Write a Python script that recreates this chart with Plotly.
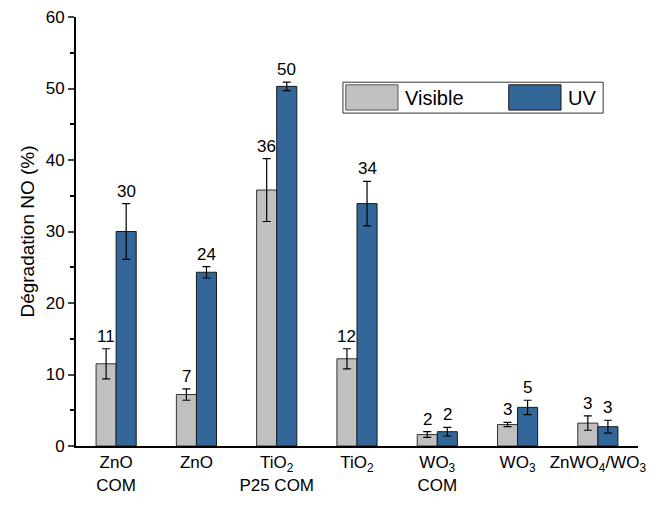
import plotly.graph_objects as go

categories = ["ZnO<br>COM", "ZnO", "TiO<sub>2</sub><br>P25 COM", "TiO<sub>2</sub>", "WO<sub>3</sub><br>COM", "WO<sub>3</sub>", "ZnWO<sub>4</sub>/WO<sub>3</sub>"]
visible = [11.5, 7.2, 35.8, 12.2, 1.6, 3.0, 3.2]
visible_err = [2.1, 0.8, 4.4, 1.4, 0.4, 0.3, 1.0]
uv = [30.0, 24.3, 50.3, 33.9, 2.0, 5.4, 2.7]
uv_err = [3.9, 0.8, 0.6, 3.1, 0.6, 1.0, 0.9]
visible_labels = ["11", "7", "36", "12", "2", "3", "3"]
uv_labels = ["30", "24", "50", "34", "2", "5", "3"]
series_names = ["Visible", "UV"]
series_colors = ["#C0C0C0", "#336699"]

FONT = "Liberation Sans, Arial"
idx = list(range(len(categories)))
w = 0.25
xv = [i - w / 2 for i in idx]
xu = [i + w / 2 for i in idx]

fig = go.Figure()
fig.add_trace(go.Bar(
    x=xv, y=visible, width=w, name=series_names[0],
    marker=dict(color=series_colors[0], line=dict(color="#333333", width=1)),
    error_y=dict(type="data", array=visible_err, color="black", thickness=1.2, width=4),
))
fig.add_trace(go.Bar(
    x=xu, y=uv, width=w, name=series_names[1],
    marker=dict(color=series_colors[1], line=dict(color="#1a1a1a", width=1)),
    error_y=dict(type="data", array=uv_err, color="black", thickness=1.2, width=4),
))

for x, v, e, t in zip(xv, visible, visible_err, visible_labels):
    fig.add_annotation(x=x, y=v + e, text=t, showarrow=False, yanchor="bottom", yshift=1,
                       font=dict(size=17, color="black", family=FONT))
for x, v, e, t in zip(xu, uv, uv_err, uv_labels):
    fig.add_annotation(x=x, y=v + e, text=t, showarrow=False, yanchor="bottom", yshift=1,
                       font=dict(size=17, color="black", family=FONT))

# custom legend box with large swatches
fig.add_shape(type="rect", xref="paper", yref="paper", x0=0.475, x1=0.938, y0=0.776, y1=0.848,
              line=dict(color="#333333", width=1), fillcolor="white")
fig.add_shape(type="rect", xref="paper", yref="paper", x0=0.480, x1=0.573, y0=0.783, y1=0.842,
              line=dict(color="#555555", width=1), fillcolor=series_colors[0])
fig.add_shape(type="rect", xref="paper", yref="paper", x0=0.770, x1=0.863, y0=0.783, y1=0.842,
              line=dict(color="#1a1a1a", width=1), fillcolor=series_colors[1])
fig.add_annotation(xref="paper", yref="paper", x=0.582, y=0.812, text=series_names[0],
                   showarrow=False, xanchor="left", yanchor="middle",
                   font=dict(size=20, color="black", family=FONT))
fig.add_annotation(xref="paper", yref="paper", x=0.872, y=0.812, text=series_names[1],
                   showarrow=False, xanchor="left", yanchor="middle",
                   font=dict(size=20, color="black", family=FONT))

fig.update_layout(
    width=670, height=506,
    margin=dict(l=68, r=40, t=9, b=68, autoexpand=False),
    paper_bgcolor="white", plot_bgcolor="white",
    barmode="overlay",
    font=dict(family=FONT, size=16, color="black"),
    showlegend=False,
    xaxis=dict(range=[-0.5, 6.5], tickmode="array", tickvals=idx, ticktext=categories,
               tickangle=0, automargin=False, ticklabeloverflow="allow",
               showline=True, linecolor="black", linewidth=2, ticks="", showgrid=False,
               zeroline=False, tickfont=dict(size=17)),
    yaxis=dict(range=[0, 60], tickvals=[0, 10, 20, 30, 40, 50, 60], showline=True,
               automargin=False, ticklabeloverflow="allow",
               linecolor="black", linewidth=2, ticks="outside", ticklen=6, tickwidth=2,
               showgrid=False, zeroline=False, tickfont=dict(size=17),
               minor=dict(ticks="outside", ticklen=4, tickwidth=1.5, dtick=5, tickcolor="black"),
               title=dict(text="Dégradation NO (%)", font=dict(size=19), standoff=6)),
)

fig.write_html("out.html")
